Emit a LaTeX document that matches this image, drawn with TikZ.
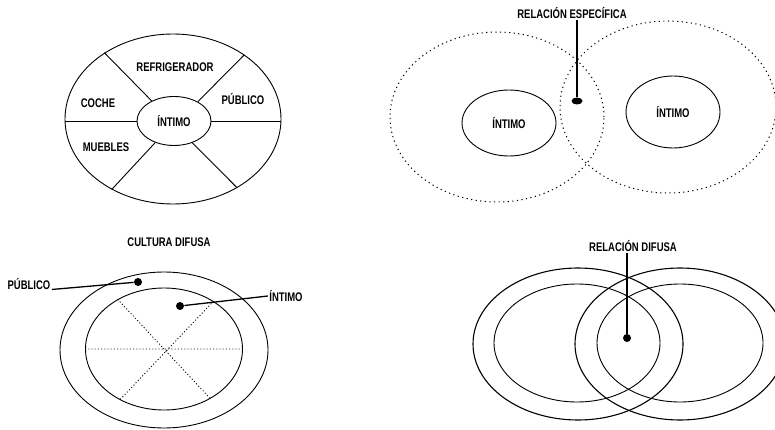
\documentclass[tikz,border=0pt]{standalone}
\usepackage{fontspec}
\newfontfamily\lblfont[FakeStretch=0.76]{Liberation Sans}
\usetikzlibrary{shapes.geometric}

\begin{document}
\begin{tikzpicture}[x=1pt,y=-1pt,line width=0.9pt,
  lbl/.style={font=\fontsize{12.5}{14}\lblfont\bfseries,inner sep=1pt},
  ring/.style={draw,ellipse,inner sep=0pt},
  blob/.style={fill,ellipse,inner sep=0pt,minimum width=9,minimum height=7},
  lead/.style={line width=1.7pt},
  dots/.style={line width=1pt,dash pattern=on 1.2pt off 3.4pt}]
  \useasboundingbox (0,0) rectangle (775,430);
  \node[ring,minimum width=216,minimum height=170] (out1) at (173,119) {};
  \node[ring,lbl,minimum width=74,minimum height=49] (int1) at (174,121) {ÍNTIMO};
  \draw (int1.west)--(int1.west -| out1.west) (int1.east)--(int1.east -| out1.east);
  \foreach \a/\b in {138/136,39/42,229/229,310/313}\draw (int1.\a)--(out1.\b);
  \node[lbl] (ref) at (175,67) {REFRIGERADOR};
  \node[lbl] (coche) at (98,103) {COCHE};
  \node[lbl] (pub1) at (243,99) {PÚBLICO};
  \node[lbl] (mueb) at (106,147) {MUEBLES};

  \node[ring,dots,minimum width=214,minimum height=170] (esfA) at (497,117) {};
  \node[ring,dots,minimum width=216,minimum height=172] (esfB) at (668,107) {};
  \node[ring,lbl,minimum width=94,minimum height=66] (intA) at (509,123) {ÍNTIMO};
  \node[ring,lbl,minimum width=94,minimum height=72] (intB) at (673,112) {ÍNTIMO};
  \node[lbl] (relesp) at (572,13) {RELACIÓN ESPECÍFICA};
  \node[blob,minimum width=11,minimum height=7] (dotesp) at (577,101) {};
  \draw[lead] (dotesp)--(dotesp |- relesp.south);

  \node[lbl] (cult) at (169,242) {CULTURA DIFUSA};
  \node[ring,minimum width=208,minimum height=156] (out3) at (164,350) {};
  \node[ring,minimum width=157,minimum height=122] (int3) at (164,349) {};
  \draw[dots,line width=0.9pt,dash pattern=on 1pt off 2.2pt] (int3.west)--(int3.east) (int3.133)--(int3.313) (int3.44)--(int3.229);
  \node[lbl] (pub3) at (29,284) {PÚBLICO};
  \node[lbl] (int3l) at (286,296) {ÍNTIMO};
  \node[blob,minimum width=8,minimum height=8] (dotpub) at (138,282) {};
  \node[blob,minimum width=8,minimum height=8] (dotint) at (180,306) {};
  \draw[line width=1.3pt] (pub3.base east)--(dotpub);
  \draw[line width=1.3pt] (int3l.west)--(dotint);

  \node[ring,line width=1.1pt,minimum width=210,minimum height=152] (outL) at (578,344) {};
  \node[ring,minimum width=166,minimum height=118] (intL) at (577,343) {};
  \node[ring,line width=1.1pt,minimum width=210,minimum height=152] (outR) at (680,344) {};
  \node[ring,minimum width=166,minimum height=118] (intR) at (680,343) {};
  \node[lbl] (reldif) at (633,246) {RELACIÓN DIFUSA};
  \node[blob,minimum width=8,minimum height=8] (dotdif) at (627,338) {};
  \draw[lead] (dotdif)--(dotdif |- reldif.south);
\end{tikzpicture}
\end{document}
